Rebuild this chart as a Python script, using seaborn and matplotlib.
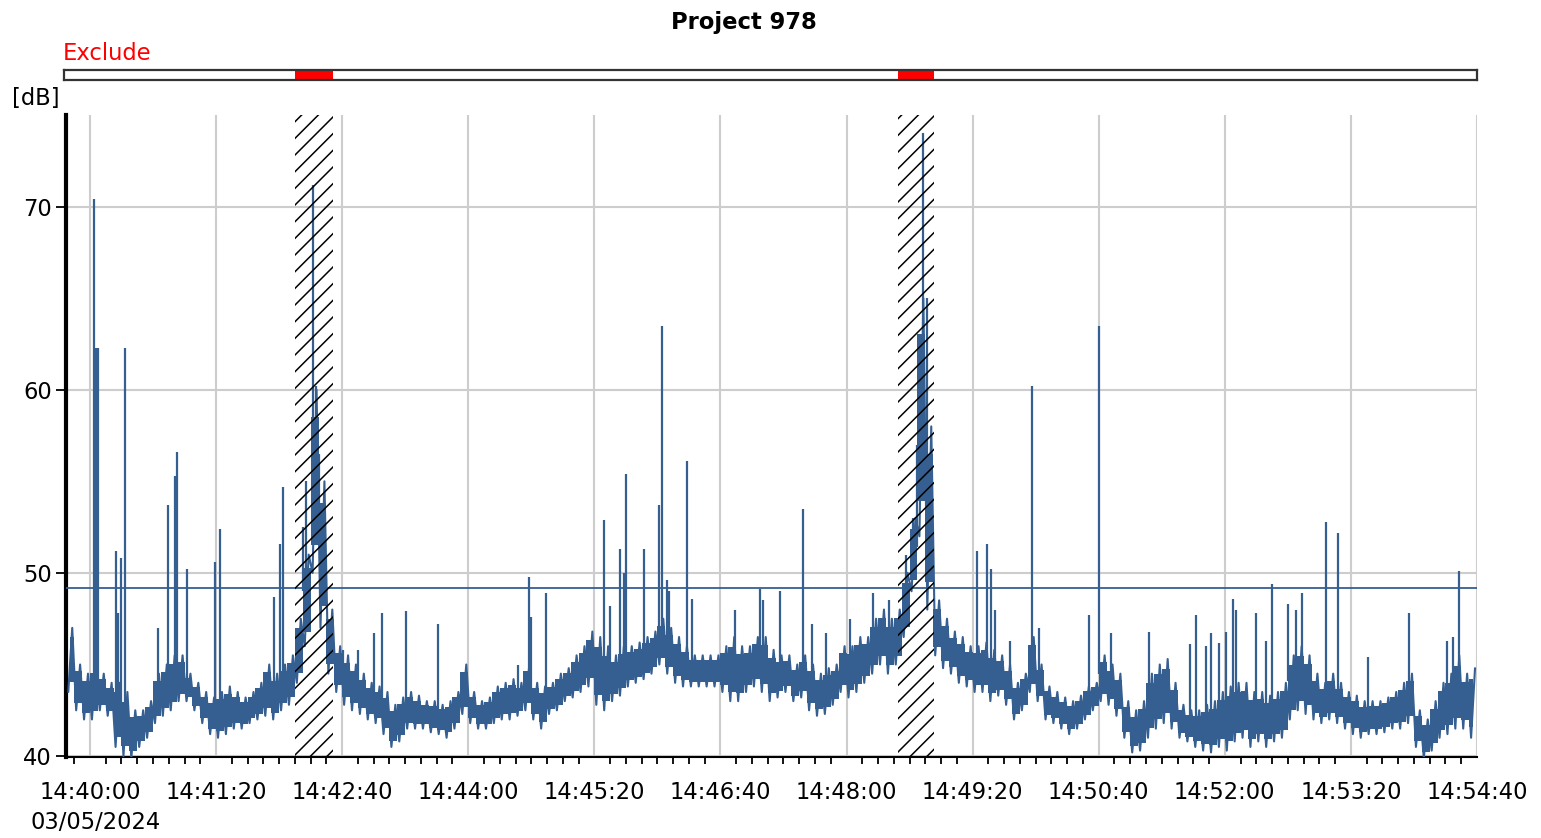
import numpy as np
import pandas as pd
import matplotlib
matplotlib.use("Agg")
import matplotlib.pyplot as plt
from matplotlib.ticker import FixedLocator, MultipleLocator, FuncFormatter
import seaborn as sns

# ---------------- data (seconds relative to 14:40:00) ----------------
BIN_START = -15
BIN_WIDTH = 5
LOW = [43.5, 42.5, 42.0, 42.0, 42.5, 42.2, 40.5, 40.0, 39.9, 40.5,
       41.0, 41.8, 42.2, 42.5, 43.0, 43.0, 42.5, 41.8, 41.2, 41.0,
       41.2, 41.5, 41.5, 41.8, 42.0, 42.2, 42.0, 42.5, 42.8, 44.0,
       46.0, 50.0, 47.0, 44.5, 43.5, 42.8, 42.5, 42.3, 42.0, 41.8,
       41.2, 40.5, 40.8, 41.5, 41.5, 41.5, 41.3, 41.2, 41.0, 41.5,
       42.3, 41.8, 41.5, 41.5, 41.8, 42.0, 42.0, 42.2, 42.5, 42.0,
       41.5, 42.3, 42.5, 43.0, 43.2, 43.5, 43.8, 42.8, 42.5, 43.0,
       43.3, 43.8, 44.0, 44.2, 44.5, 45.0, 44.5, 44.0, 43.8, 43.8,
       43.8, 43.8, 43.8, 43.5, 43.0, 43.0, 43.5, 43.8, 43.5, 43.0,
       43.2, 43.5, 43.0, 43.2, 42.5, 42.2, 42.3, 42.8, 43.5, 43.2,
       43.5, 44.0, 44.5, 45.0, 44.5, 45.0, 46.5, 49.0, 52.0, 48.0,
       45.5, 44.8, 44.5, 44.0, 43.8, 43.5, 43.5, 43.0, 43.3, 42.8,
       42.0, 42.5, 43.5, 43.0, 42.0, 41.8, 41.5, 41.2, 41.5, 42.0,
       42.5, 43.0, 42.8, 42.2, 41.0, 40.2, 40.3, 41.0, 41.5, 41.8,
       41.5, 41.0, 40.8, 40.5, 40.3, 40.2, 40.5, 40.3, 40.8, 41.0,
       40.5, 40.8, 40.5, 40.8, 41.0, 42.0, 42.5, 42.3, 42.0, 41.8,
       42.0, 41.8, 41.5, 41.2, 41.0, 41.2, 41.2, 41.3, 41.5, 41.5,
       41.8, 40.5, 39.9, 40.3, 41.0, 41.2, 41.5, 41.5, 41.0]
HIGH = [47.0, 45.0, 44.5, 45.0, 44.5, 44.0, 44.0, 43.5, 42.5, 42.5,
        43.0, 44.5, 45.0, 45.5, 45.5, 44.5, 44.0, 43.5, 43.2, 43.5,
        43.8, 43.5, 43.2, 43.5, 44.0, 45.0, 44.5, 45.0, 45.5, 47.5,
        51.0, 60.0, 55.0, 48.0, 46.0, 45.5, 45.0, 44.5, 44.0, 43.8,
        43.5, 42.8, 43.2, 43.5, 43.3, 43.0, 43.0, 42.8, 43.0, 43.5,
        45.0, 43.5, 43.0, 43.2, 43.8, 44.0, 44.2, 44.0, 45.0, 44.0,
        43.8, 44.0, 44.5, 44.8, 45.5, 46.0, 46.8, 46.5, 46.0, 45.5,
        46.0, 46.0, 46.2, 46.5, 46.8, 47.5, 47.0, 46.5, 46.0, 45.5,
        45.5, 45.5, 45.5, 46.0, 46.5, 46.0, 46.0, 46.5, 46.5, 45.8,
        45.5, 45.5, 45.0, 45.5, 45.0, 44.5, 44.8, 45.0, 46.0, 46.0,
        46.5, 46.5, 47.5, 48.0, 47.5, 48.0, 50.0, 53.0, 65.0, 58.0,
        48.5, 47.5, 46.8, 46.5, 46.0, 46.0, 46.2, 45.8, 45.5, 45.0,
        44.0, 44.5, 46.5, 45.0, 43.8, 43.5, 43.2, 43.0, 43.3, 43.8,
        44.0, 45.5, 45.0, 44.5, 43.0, 42.5, 43.0, 44.5, 45.0, 45.3,
        44.0, 42.8, 42.5, 42.5, 42.8, 43.0, 43.5, 43.8, 44.0, 44.0,
        43.5, 43.5, 43.3, 43.5, 44.0, 45.5, 46.0, 45.5, 44.5, 44.0,
        44.5, 44.0, 43.5, 43.3, 43.0, 43.0, 43.0, 43.2, 43.5, 44.0,
        44.5, 42.5, 42.0, 43.0, 44.0, 44.5, 45.5, 44.5, 44.8]

SPIKE_T = [2.5, 3.8, 5.0, 16.5, 17.8, 19.7, 22.2, 43.0, 49.5, 54.0,
           55.2, 61.6, 79.4, 82.5, 117.0, 120.6, 122.5, 135.0, 137.0, 141.6,
           143.5, 145.0, 160.6, 170.0, 180.0, 185.4, 200.6, 221.0, 271.7, 278.7,
           280.0, 289.5, 326.3, 330.0, 336.5, 339.0, 340.3, 351.7, 361.0, 363.0,
           366.0, 367.6, 379.0, 382.0, 409.0, 425.4, 427.3, 438.0, 452.7, 458.0,
           467.0, 482.0, 496.5, 507.0, 517.5, 522.0, 524.4, 526.3, 528.3, 531.0,
           562.5, 569.0, 571.4, 574.0, 584.0, 597.5, 602.0, 633.7, 640.0, 647.6,
           672.0, 698.0, 701.6, 708.0, 711.0, 716.0, 720.6, 725.0, 727.0, 739.7,
           746.0, 750.0, 760.0, 765.0, 769.0, 784.0, 791.7, 810.8, 837.0, 861.0,
           864.8, 868.8]
SPIKE_PEAK = [70.4, 62.3, 62.3, 51.2, 47.8, 50.8, 62.3, 47.0, 53.7, 55.3,
              56.6, 50.2, 50.6, 52.4, 48.7, 51.6, 54.7, 52.5, 55.0, 71.2,
              60.2, 56.5, 45.8, 45.8, 46.7, 47.8, 47.9, 47.2, 45.0, 49.8,
              47.6, 48.9, 52.9, 48.2, 51.3, 50.0, 55.4, 51.3, 53.7, 63.5,
              49.6, 49.0, 56.1, 48.6, 48.0, 49.1, 48.5, 49.0, 53.5, 47.2,
              46.7, 47.5, 48.9, 48.5, 51.0, 53.0, 57.0, 63.0, 74.0, 65.0,
              51.2, 51.6, 50.2, 48.0, 46.3, 60.2, 47.0, 47.7, 63.5, 46.7,
              46.8, 46.1, 47.7, 46.0, 46.7, 46.2, 46.8, 48.6, 48.0, 47.8,
              46.3, 49.4, 48.3, 48.0, 48.9, 52.8, 52.2, 45.4, 47.8, 46.3,
              46.5, 50.1]

AVG_LEVEL = 49.2
EXCL_START = [130.2, 512.4]
EXCL_END = [154.3, 535.2]
TITLE = "Project 978"
DATE_LABEL = "03/05/2024"
X_TICKS = list(range(0, 881, 80))
Y_TICKS = [40, 50, 60, 70]

# ---------------- build tables ----------------
n = len(LOW)
starts = np.array([BIN_START + BIN_WIDTH * i for i in range(n)], dtype=float)
lo_arr = np.array(LOW)
hi_arr = np.array(HIGH)
zig_t, zig_v = [], []
for s, lo, hi in zip(starts, LOW, HIGH):
    zig_t += [s + 1.25, s + 3.75]
    zig_v += [lo, hi]
df = pd.DataFrame({"t": zig_t, "dB": zig_v})
centers = starts + BIN_WIDTH / 2
inner_lo = lo_arr + 0.15 * (hi_arr - lo_arr)
inner_hi = hi_arr - 0.15 * (hi_arr - lo_arr)

spike_base = []
for st in SPIKE_T:
    i = int(np.clip((st - BIN_START) // BIN_WIDTH, 0, n - 1))
    spike_base.append(LOW[i] + 0.6 * (HIGH[i] - LOW[i]))

# ---------------- style ----------------
sns.set_style("white")
plt.rcParams["font.family"] = ["DejaVu Sans"]
plt.rcParams["hatch.linewidth"] = 1.1
plt.rcParams["text.color"] = "black"
plt.rcParams["xtick.color"] = "black"
plt.rcParams["ytick.color"] = "black"
BLUE = "#365f91"
GRID = "#cdcdcd"
FS = 16.3

fig = plt.figure(figsize=(15.41, 8.38), dpi=100)
W, H = 1541, 838
ax = fig.add_axes([66 / W, 1 - 757 / H, (1477 - 66) / W, (757 - 115) / H])

# band fill + jagged line
ax.fill_between(centers, inner_lo, inner_hi, step="mid", color=BLUE, lw=0, zorder=2)
sns.lineplot(data=df, x="t", y="dB", ax=ax, color=BLUE, lw=1.5,
             estimator=None, sort=True, zorder=3)
ax.vlines(SPIKE_T, spike_base, SPIKE_PEAK, color=BLUE, lw=1.6, zorder=3)
ax.axhline(AVG_LEVEL, color=BLUE, lw=1.3, zorder=3)

# hatched exclusion regions
for s, e in zip(EXCL_START, EXCL_END):
    ax.axvspan(s, e, facecolor="none", edgecolor="black", hatch="//", lw=0, zorder=4)

ax.set_xlim(-15.2, 880)
ax.set_ylim(39.95, 75.0)
ax.xaxis.set_major_locator(FixedLocator(X_TICKS))
ax.xaxis.set_minor_locator(MultipleLocator(10))
ax.yaxis.set_major_locator(FixedLocator(Y_TICKS))


def fmt(t, pos):
    total = 14 * 3600 + 40 * 60 + int(round(t))
    h, r = divmod(total, 3600)
    m, s = divmod(r, 60)
    return f"{h:02d}:{m:02d}:{s:02d}"


ax.xaxis.set_major_formatter(FuncFormatter(fmt))
ax.grid(True, which="major", color=GRID, lw=1.5, zorder=0)
ax.set_axisbelow(True)
ax.tick_params(axis="x", which="major", length=9, width=1.5, direction="out",
               labelsize=FS, pad=8, colors="black")
ax.tick_params(axis="x", which="minor", length=5, width=1.3, direction="out",
               bottom=True)
ax.tick_params(axis="y", which="major", length=7, width=1.3, direction="out",
               labelsize=FS, pad=3, left=True)
ax.set_xlabel("")
ax.set_ylabel("")
for side in ["top", "right"]:
    ax.spines[side].set_visible(False)
ax.spines["left"].set_linewidth(3.0)
ax.spines["left"].set_color("black")
ax.spines["bottom"].set_linewidth(1.5)
ax.spines["bottom"].set_color("black")

# exclude bar
axb = fig.add_axes([64 / W, 1 - 80 / H, (1477 - 64) / W, 10 / H])
axb.set_xlim(-16.5, 880)
axb.set_ylim(0, 1)
for s, e in zip(EXCL_START, EXCL_END):
    axb.axvspan(s, e, color="#ff0000", lw=0)
axb.set_xticks([])
axb.set_yticks([])
for sp in axb.spines.values():
    sp.set_visible(True)
    sp.set_color("#333333")
    sp.set_linewidth(1.6)

fig.text(744 / W, 1 - 22 / H, TITLE, ha="center", va="center",
         fontsize=FS, fontweight="bold")
fig.text(63 / W, 1 - 54 / H, "Exclude", ha="left", va="center",
         fontsize=FS, color="#ff0000")
fig.text(12 / W, 1 - 98 / H, "[dB]", ha="left", va="center", fontsize=FS)
fig.text(30 / W, 1 - 822 / H, DATE_LABEL, ha="left", va="center", fontsize=FS)

fig.savefig("out.png", dpi=100, facecolor="white")
